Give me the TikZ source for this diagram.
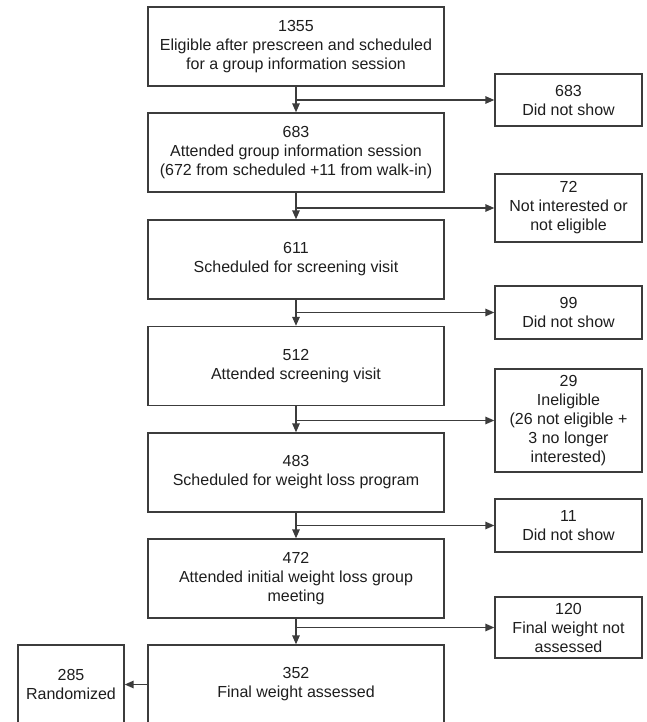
\documentclass[tikz,border=0pt]{standalone}
\usepackage{fontspec}
\setmainfont{Liberation Sans}
\usetikzlibrary{arrows.meta}
\definecolor{linegray}{HTML}{3C3C3C}
\definecolor{textgray}{HTML}{1E1E1E}
\begin{document}
\begin{tikzpicture}[x=1pt,y=-1pt,
  base/.style={draw=linegray, line width=1.4pt, align=center, inner sep=0pt,
    font=\fontsize{16}{19}\selectfont, text=textgray},
  box/.style={base, minimum width=296pt, minimum height=79pt},
  side/.style={base, minimum width=147pt},
  arr/.style={draw=linegray, line width=1.5pt, -{Triangle[length=9pt,width=7.5pt]}}]
\useasboundingbox (0,0) rectangle (646,722);
\fill[white] (0,0) rectangle (646,722);

\node[box] (b1) at (296,46.5) {1355\\Eligible after prescreen and scheduled\\for a group information session};
\node[box] (b2) at (296,152.5) {683\\Attended group information session\\(672 from scheduled +11 from walk-in)};
\node[box] (b3) at (296,259.5) {611\\Scheduled for screening visit};
\node[box] (b4) at (296,366) {512\\Attended screening visit};
\node[box] (b5) at (296,472.5) {483\\Scheduled for weight loss program};
\node[box] (b6) at (296,578.5) {472\\Attended initial weight loss group\\meeting};
\node[box] (b7) at (296,684.5) {352\\Final weight assessed};
\node[base, minimum width=106pt, minimum height=79pt] (rnd) at (71,684.5) {285\\Randomized};

\node[side, minimum height=52pt] (r1) at (568.5,100) {683\\Did not show};
\node[side, minimum height=68pt] (r2) at (568.5,208) {72\\Not interested or\\not eligible};
\node[side, minimum height=53pt] (r3) at (568.5,312.5) {99\\Did not show};
\node[side, minimum height=103pt] (r4) at (568.5,420.5) {29\\Ineligible\\(26 not eligible +\\3 no longer\\interested)};
\node[side, minimum height=53pt] (r5) at (568.5,525.5) {11\\Did not show};
\node[side, minimum height=61pt] (r6) at (568.5,627.5) {120\\Final weight not\\assessed};

\draw[arr] (b1.south) -- (b2.north);
\draw[arr] (b2.south) -- (b3.north);
\draw[arr] (b3.south) -- (b4.north);
\draw[arr] (b4.south) -- (b5.north);
\draw[arr] (b5.south) -- (b6.north);
\draw[arr] (b6.south) -- (b7.north);

\draw[arr] (b1.south |- r1.west) -- (r1.west);
\draw[arr] (b2.south |- r2.west) -- (r2.west);
\draw[arr] (b3.south |- r3.west) -- (r3.west);
\draw[arr] (b4.south |- r4.west) -- (r4.west);
\draw[arr] (b5.south |- r5.west) -- (r5.west);
\draw[arr] (b6.south |- r6.west) -- (r6.west);

\draw[arr] (b7.west) -- (rnd.east);
\end{tikzpicture}
\end{document}
